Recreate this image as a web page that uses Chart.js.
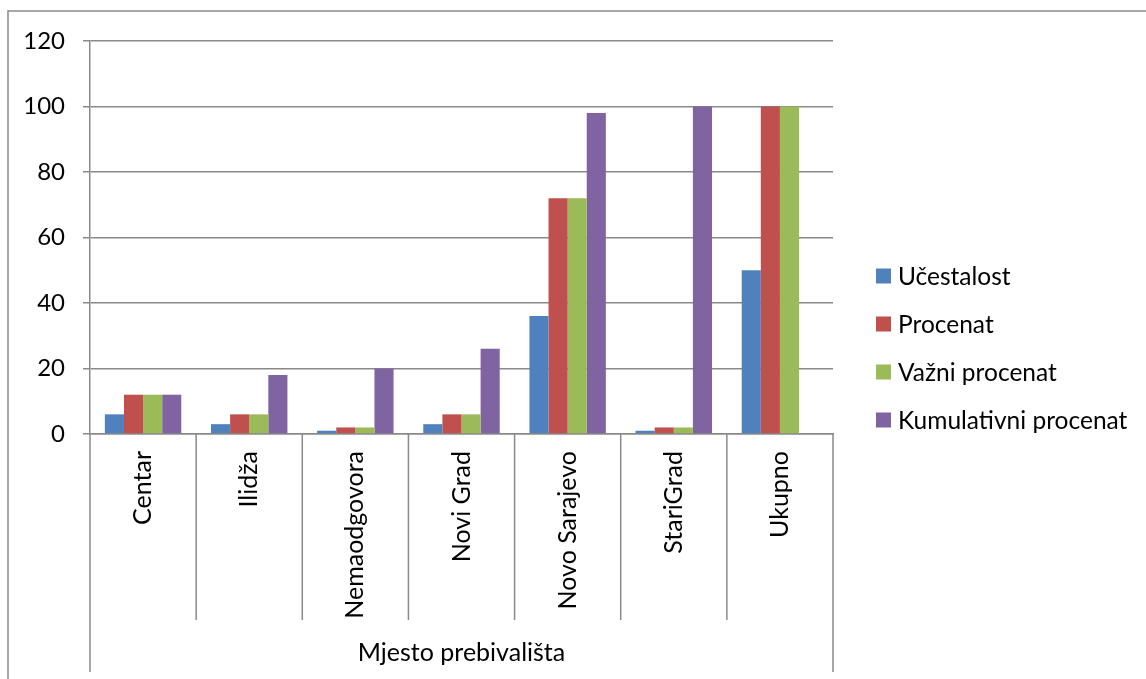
<!DOCTYPE html>
<html>
<head>
<meta charset="utf-8">
<title>Mjesto prebivališta</title>
<script src="https://cdn.jsdelivr.net/npm/chart.js@4/dist/chart.umd.min.js"></script>
<style>
  html, body { margin: 0; padding: 0; background: #fff; }
</style>
</head>
<body>
<canvas id="chart" width="1146" height="679"></canvas>
<script>
// Chart data
const categories = ['Centar', 'Ilidža', 'Nemaodgovora', 'Novi Grad', 'Novo Sarajevo', 'StariGrad', 'Ukupno'];
const seriesNames = ['Učestalost', 'Procenat', 'Važni procenat', 'Kumulativni procenat'];
const ucestalost = [6, 3, 1, 3, 36, 1, 50];
const procenat = [12, 6, 2, 6, 72, 2, 100];
const vazniProcenat = [12, 6, 2, 6, 72, 2, 100];
const kumulativniProcenat = [12, 18, 20, 26, 98, 100, null];
const yTicks = [0, 20, 40, 60, 80, 100, 120];
const groupLabel = 'Mjesto prebivališta';

const seriesData = [ucestalost, procenat, vazniProcenat, kumulativniProcenat];
const colors = ['#4F81BD', '#C0504D', '#9BBB59', '#8064A2'];
const FONT = 'Lato, "Open Sans", sans-serif';
const LINE = '#8a8a8a';

// Frame, multi-level category dividers, group label and legend
const excelDecor = {
    id: 'excelDecor',
    afterDraw(chart) {
        const { ctx, chartArea: a, scales: { x } } = chart;
        const half = (x.getPixelForValue(1) - x.getPixelForValue(0)) / 2;
        const n = categories.length;
        ctx.save();
        ctx.strokeStyle = LINE;
        ctx.lineWidth = 1.5;

        // outer frame (only top and left edges are visible)
        ctx.beginPath();
        ctx.moveTo(8, chart.height);
        ctx.lineTo(8, 11);
        ctx.lineTo(chart.width, 11);
        ctx.stroke();

        // category dividers below the axis
        ctx.beginPath();
        for (let i = 0; i <= n; i++) {
            const px = i < n ? x.getPixelForValue(i) - half : x.getPixelForValue(n - 1) + half;
            const end = (i === 0 || i === n) ? chart.height - 7 : a.bottom + 186;
            ctx.moveTo(px, a.bottom);
            ctx.lineTo(px, end);
        }
        ctx.stroke();

        // group label
        ctx.fillStyle = '#000';
        ctx.font = '25px ' + FONT;
        ctx.textAlign = 'center';
        ctx.textBaseline = 'middle';
        ctx.fillText(groupLabel, (a.left + a.right) / 2, chart.height - 26);

        // legend
        ctx.font = '24.5px ' + FONT;
        ctx.textAlign = 'left';
        const lx = a.right + 43;
        const ly = 276;
        chart.data.datasets.forEach((ds, i) => {
            const cy = ly + i * 48;
            ctx.fillStyle = ds.backgroundColor;
            ctx.fillRect(lx, cy - 7.5, 15, 15);
            ctx.fillStyle = '#000';
            ctx.fillText(ds.label, lx + 22, cy + 1);
        });
        ctx.restore();
    }
};

function renderChart() {
    const ctx = document.getElementById('chart');
    new Chart(ctx, {
        type: 'bar',
        data: {
            labels: categories,
            datasets: seriesNames.map((name, i) => ({
                label: name,
                data: seriesData[i],
                backgroundColor: colors[i],
                borderWidth: 0,
                categoryPercentage: 0.72,
                barPercentage: 1.0
            }))
        },
        options: {
            responsive: false,
            animation: false,
            devicePixelRatio: 1,
            layout: { padding: { top: 41, right: 313, bottom: 0, left: 0 } },
            plugins: {
                legend: { display: false },
                tooltip: { enabled: false }
            },
            scales: {
                x: {
                    ticks: {
                        minRotation: 90,
                        maxRotation: 90,
                        autoSkip: false,
                        padding: 17,
                        color: '#000',
                        font: { family: FONT, size: 25 }
                    },
                    grid: { drawOnChartArea: false, drawTicks: false },
                    border: { display: true, color: LINE, width: 1.5 },
                    afterFit(scale) { scale.height = 245; }
                },
                y: {
                    min: 0,
                    max: 120,
                    afterBuildTicks(scale) { scale.ticks = yTicks.map(v => ({ value: v })); },
                    ticks: {
                        padding: 18,
                        color: '#000',
                        font: { family: FONT, size: 24 }
                    },
                    grid: { color: LINE, lineWidth: 1.5, tickLength: 7, drawTicks: true },
                    border: { display: true, color: LINE, width: 1.5 },
                    afterFit(scale) { scale.width = 90; }
                }
            }
        },
        plugins: [excelDecor]
    });
}

document.addEventListener('DOMContentLoaded', renderChart);
</script>
</body>
</html>
